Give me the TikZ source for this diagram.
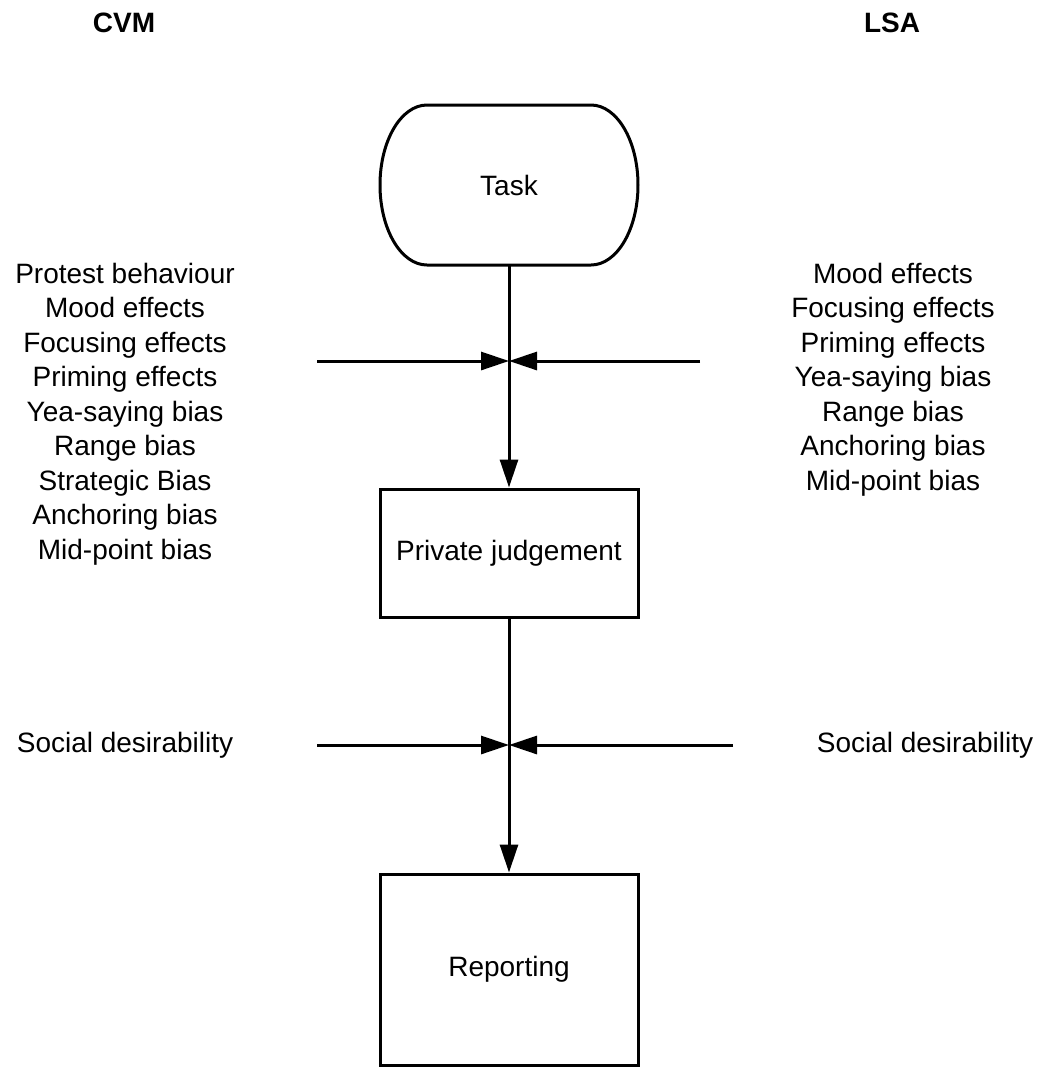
\documentclass[tikz,border=0pt]{standalone}
\usepackage{fontspec}
\setmainfont{Liberation Sans}
\usetikzlibrary{arrows.meta}

\begin{document}
\begin{tikzpicture}[x=0.5pt,y=-0.5pt,
  lbl/.style={font=\fontsize{14}{17}\selectfont,inner sep=0pt},
  head/.style={font=\fontsize{14}{17}\selectfont\bfseries,inner sep=0pt},
  stage/.style={lbl,draw=black,line width=1.5pt,minimum width=129pt},
  flow/.style={line width=1.5pt,-{Triangle[length=14pt,width=9pt]}}]
\def\xm{509};
\def\dy{34.5};
\useasboundingbox (0,0) rectangle (1046,1073);

\node[head,anchor=base] (cvm) at (124,32) {CVM};
\node[head,anchor=base] (lsa) at (892,32) {LSA};

% stages
\node[lbl,outer sep=0pt,minimum width=129pt,minimum height=80pt] (task) at (\xm,185) {Task};
\draw[line width=1.5pt] ([xshift=23.5pt]task.north west) -- ([xshift=-23.5pt]task.north east)
  arc[start angle=90,end angle=-90,x radius=23.5pt,y radius=40pt]
  -- ([xshift=23.5pt]task.south west)
  arc[start angle=270,end angle=90,x radius=23.5pt,y radius=40pt] -- cycle;
\node[stage,minimum height=64pt] (judge) at (\xm,553) {Private judgement};
\node[stage,minimum height=95.5pt] (report) at (\xm,969.5) {Reporting};

% biases
\foreach \t [count=\i] in {Protest behaviour,Mood effects,Focusing effects,Priming effects,Yea-saying bias,Range bias,Strategic Bias,Anchoring bias,Mid-point bias}
  \node[lbl,anchor=base] (cvm\i) at (125,283+\dy*\i-\dy) {\t};
\foreach \t [count=\i] in {Mood effects,Focusing effects,Priming effects,Yea-saying bias,Range bias,Anchoring bias,Mid-point bias}
  \node[lbl,anchor=base] (lsa\i) at (893,283+\dy*\i-\dy) {\t};
\node[lbl,anchor=base] (cvmS) at (125,752) {Social desirability};
\node[lbl,anchor=base] (lsaS) at (925,752) {Social desirability};

% arrows
\coordinate (j1) at (\xm,361);
\coordinate (j2) at (\xm,745);
\coordinate (cvmIn) at (317,361);
\coordinate (lsaIn) at (700,361);
\coordinate (cvmSIn) at (317,745);
\coordinate (lsaSIn) at (733,745);
\draw[flow] (task.south) -- (judge.north);
\draw[flow] (judge.south) -- (report.north);
\draw[flow] (cvmIn) -- (j1);
\draw[flow] (lsaIn) -- (j1);
\draw[flow] (cvmSIn) -- (j2);
\draw[flow] (lsaSIn) -- (j2);
\end{tikzpicture}
\end{document}
